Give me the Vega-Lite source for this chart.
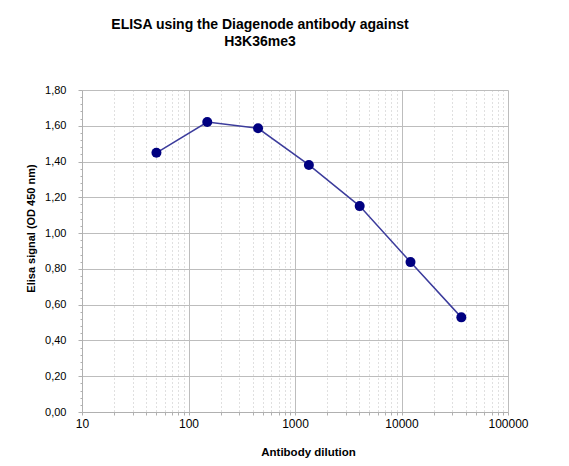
{
  "$schema": "https://vega.github.io/schema/vega-lite/v6.json",
  "autosize": {"type": "none"},
  "width": 426,
  "height": 322,
  "padding": {"left": 82, "top": 90, "right": 61, "bottom": 54},
  "background": "white",
  "config": {
    "view": {"stroke": null},
    "font": "Liberation Sans"
  },
  "title": {
    "text": ["ELISA using the Diagenode antibody against", "H3K36me3"],
    "font": "Liberation Sans",
    "fontSize": 14,
    "fontWeight": "bold",
    "color": "#000000",
    "anchor": "middle",
    "dx": -35,
    "offset": 35,
    "lineHeight": 17
  },
  "data": {
    "values": [
      {"dilution": 50, "signal": 1.449},
      {"dilution": 150, "signal": 1.621},
      {"dilution": 450, "signal": 1.586},
      {"dilution": 1350, "signal": 1.381},
      {"dilution": 4050, "signal": 1.151},
      {"dilution": 12150, "signal": 0.838},
      {"dilution": 36450, "signal": 0.529}
    ]
  },
  "encoding": {
    "x": {
      "field": "dilution",
      "type": "quantitative",
      "scale": {"type": "log", "domain": [10, 100000], "nice": false},
      "axis": {
        "title": "Antibody dilution",
        "titleFont": "Liberation Sans",
        "titleFontSize": 11.5,
        "titleFontWeight": "bold",
        "titleColor": "#000000",
        "titleBaseline": "alphabetic",
        "titleX": 226,
        "titleY": 43,
        "values": [10,20,30,40,50,60,70,80,90,100,200,300,400,500,600,700,800,900,1000,2000,3000,4000,5000,6000,7000,8000,9000,10000,20000,30000,40000,50000,60000,70000,80000,90000,100000],
        "labelExpr": "indexof([10,100,1000,10000,100000], datum.value) >= 0 ? datum.value + '' : ''",
        "labelFont": "Liberation Sans",
        "labelFontSize": 12,
        "labelColor": "#000000",
        "labelPadding": 3,
        "labelFlush": false,
        "labelOverlap": false,
        "tickSize": 3,
        "tickColor": "#b0b0b0",
        "domainColor": "#b0b0b0",
        "grid": true,
        "gridColor": {"condition": {"test": "indexof([10,100,1000,10000,100000], datum.value) >= 0", "value": "#bdbdbd"}, "value": "#c0c0c0"},
        "gridDash": {"condition": {"test": "indexof([10,100,1000,10000,100000], datum.value) >= 0", "value": []}, "value": [1, 3]},
        "gridWidth": 1
      }
    },
    "y": {
      "field": "signal",
      "type": "quantitative",
      "scale": {"domain": [0, 1.8], "nice": false},
      "axis": {
        "title": "Elisa signal (OD 450 nm)",
        "titleFont": "Liberation Sans",
        "titleFontSize": 11,
        "titleFontWeight": "bold",
        "titleColor": "#000000",
        "titleX": -46,
        "titleY": 138,
        "values": [0,0.04,0.08,0.12,0.16,0.2,0.24,0.28,0.32,0.36,0.4,0.44,0.48,0.52,0.56,0.6,0.64,0.68,0.72,0.76,0.8,0.84,0.88,0.92,0.96,1.0,1.04,1.08,1.12,1.16,1.2,1.24,1.28,1.32,1.36,1.4,1.44,1.48,1.52,1.56,1.6,1.64,1.68,1.72,1.76,1.8],
        "labelExpr": "abs(round(datum.value*100) % 20) == 0 ? replace(format(datum.value, '.2f'), '.', ',') : ''",
        "labelFont": "Liberation Sans",
        "labelFontSize": 11,
        "labelColor": "#000000",
        "labelPadding": 12,
        "labelOverlap": false,
        "labelFlush": false,
        "tickSize": {"condition": {"test": "abs(round(datum.value*100) % 20) == 0", "value": 4}, "value": 2},
        "tickColor": "#b0b0b0",
        "domainColor": "#b0b0b0",
        "grid": true,
        "gridColor": {"condition": {"test": "abs(round(datum.value*100) % 20) == 0", "value": "#bdbdbd"}, "value": "transparent"},
        "gridWidth": 1
      }
    }
  },
  "layer": [
    {"mark": {"type": "line", "color": "#3c3c9c", "strokeWidth": 1.5}},
    {"mark": {"type": "point", "filled": true, "color": "#000080", "size": 100, "opacity": 1}}
  ]
}
